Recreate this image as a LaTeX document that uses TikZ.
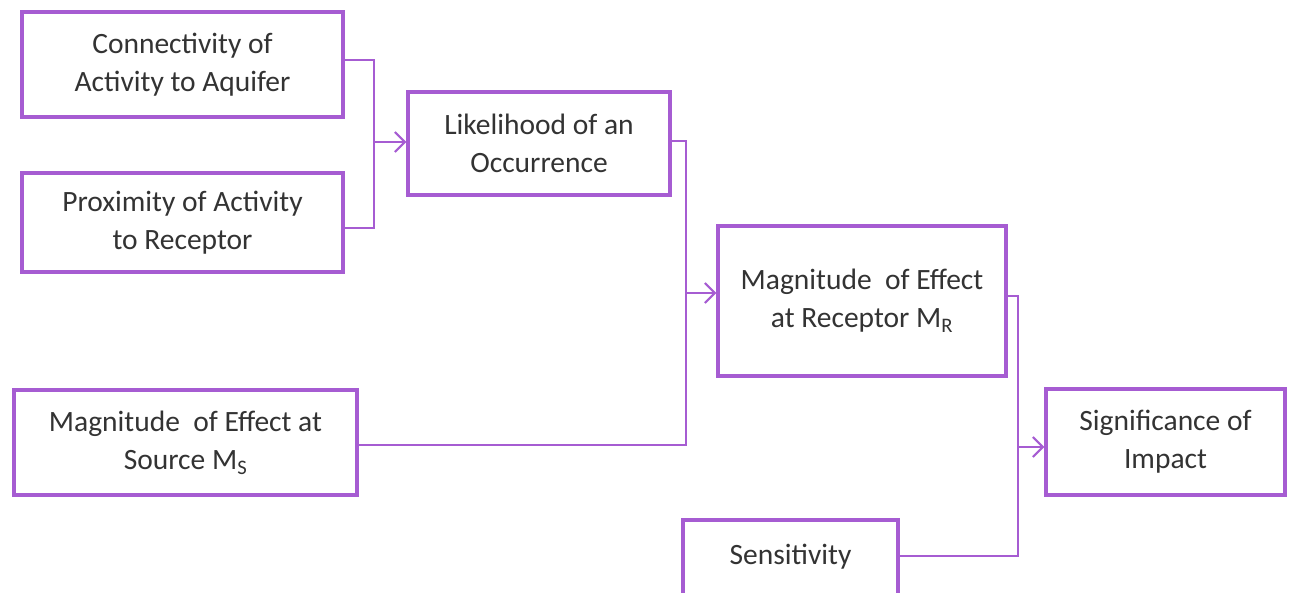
\documentclass[tikz,border=0pt]{standalone}
\usepackage{fontspec}
\setmainfont{Carlito}
\usetikzlibrary{arrows.meta}
\definecolor{purp}{HTML}{A65CD2}
\definecolor{txt}{HTML}{333333}
\tikzset{
  box/.style={draw=purp, line width=3.5pt, fill=white, text=txt, align=center, font=\fontsize{29.5}{38}\selectfont, inner sep=0pt},
  conn/.style={draw=purp, line width=2pt},
  arr/.style={conn, -{Straight Barb[length=10pt,width=20pt,line width=2pt]}}
}
\begin{document}
\begin{tikzpicture}[x=1pt,y=-1pt]
\useasboundingbox (0,0) rectangle (1290,592);
\clip (0,0) rectangle (1290,592);
\node[box, minimum width=321pt, minimum height=105pt] (conn) at (182.5,64.5) {Connectivity of\\Activity to Aquifer};
\node[box, minimum width=321pt, minimum height=99pt] (prox) at (182.5,222.5) {Proximity of Activity\\to Receptor};
\node[box, minimum width=262pt, minimum height=103pt] (like) at (539,143.5) {Likelihood of an\\Occurrence};
\node[box, minimum width=288pt, minimum height=150pt] (recv) at (862,301) {Magnitude\ \ of Effect\\at Receptor M\textsubscript{R}};
\node[box, minimum width=343pt, minimum height=105pt] (src) at (185.5,442.5) {Magnitude\ \ of Effect at\\Source M\textsubscript{S}};
\node[box, minimum width=239pt, minimum height=106pt] (sig) at (1165.5,442) {Significance of\\Impact};
\node[box, minimum width=215pt, minimum height=90pt] (sens) at (790.5,565) {};
\node[text=txt, font=\fontsize{29.5}{38}\selectfont] (senst) at (790.5,557) {Sensitivity};

\coordinate (j1) at (374,142);
\coordinate (j2) at (686,293);
\coordinate (j3) at (1018,447);

\draw[conn] (conn.east |- 0,60) -| (j1) |- (prox.east |- 0,228);
\draw[arr] (j1) -- (like.west |- j1);
\draw[conn] (like.east |- 0,141) -| (j2) |- (src.east |- 0,445);
\draw[arr] (j2) -- (recv.west |- j2);
\draw[conn] (recv.east |- 0,296) -| (j3) |- (sens.east |- 0,556);
\draw[arr] (j3) -- (sig.west |- j3);
\end{tikzpicture}
\end{document}
